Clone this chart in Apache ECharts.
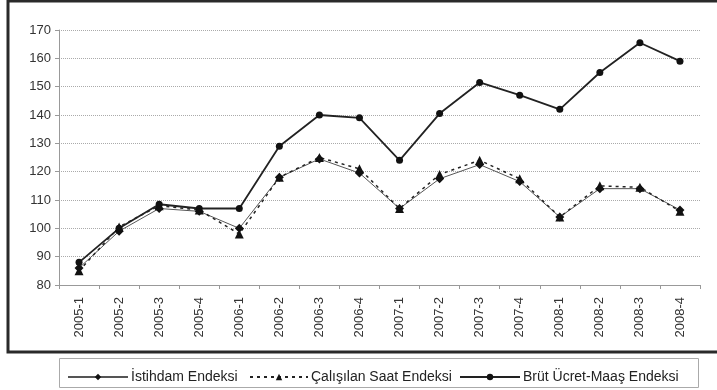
<!DOCTYPE html>
<html>
<head>
<meta charset="utf-8">
<script src="https://cdn.jsdelivr.net/npm/echarts@6/dist/echarts.min.js"></script>
<style>
  html, body { margin: 0; padding: 0; background: #fff; }
  #chart { width: 717px; height: 390px; }
</style>
</head>
<body>
<div id="chart"></div>
<script>
// çeyrekler
var categories = ['2005-1', '2005-2', '2005-3', '2005-4', '2006-1', '2006-2', '2006-3', '2006-4',
  '2007-1', '2007-2', '2007-3', '2007-4', '2008-1', '2008-2', '2008-3', '2008-4']
var istihdam = [86, 99, 107, 106, 100, 118, 124.5, 119.5, 107, 117.5, 122.5, 116.5, 104, 114, 114, 106.5]
var calisilanSaat = [85, 100.5, 108, 106.5, 98, 118, 125, 121, 107, 119, 124, 117.5, 104, 115, 114.5, 106]
var brutUcret = [88, 100, 108.5, 107, 107, 129, 140, 139, 124, 140.5, 151.5, 147, 142, 155, 165.5, 159]
var yTicks = [80, 90, 100, 110, 120, 130, 140, 150, 160, 170]

var names = ['İstihdam Endeksi', 'Çalışılan Saat Endeksi', 'Brüt Ücret-Maaş Endeksi']
var font = 'Liberation Sans, Arial, sans-serif'

var chartObj = echarts.init(document.getElementById('chart'))
var legendText = { fontFamily: font, fontSize: 14, color: '#222', padding: [0, 0, 0, -2] }
var option = {
  animation: false,
  grid: { left: 59, right: 17, top: 30, bottom: 105 },
  graphic: [
    { // dış çerçeve
      type: 'rect', shape: { x: 8, y: 1, width: 716, height: 351 },
      style: { fill: 'none', stroke: '#2a2a2a', lineWidth: 3 }, z: 100
    },
    { // lejant kutusu
      type: 'rect', shape: { x: 59.5, y: 358.5, width: 639, height: 29 },
      style: { fill: 'none', stroke: '#aaa', lineWidth: 1 }, z: 100
    }
  ],
  legend: [
    { data: [names[0]], left: 62, top: 365, itemWidth: 60, itemHeight: 8, itemGap: 0, textStyle: legendText },
    { data: [names[1]], left: 244, top: 365, itemWidth: 58, itemHeight: 8, itemGap: 0, textStyle: legendText },
    { data: [names[2]], left: 454, top: 365, itemWidth: 60, itemHeight: 8, itemGap: 0, textStyle: legendText }
  ],
  xAxis: {
    type: 'category',
    data: categories,
    boundaryGap: true,
    axisLine: { lineStyle: { color: '#999' } },
    axisTick: { show: true, length: 4, lineStyle: { color: '#999' } },
    axisLabel: { rotate: 90, margin: 12, fontFamily: font, fontSize: 13, color: '#333' }
  },
  yAxis: {
    type: 'value',
    min: yTicks[0],
    max: yTicks[yTicks.length - 1],
    interval: 10,
    axisLine: { show: true, lineStyle: { color: '#999' } },
    axisTick: { show: true, length: 4, lineStyle: { color: '#999' } },
    axisLabel: { margin: 8, fontFamily: font, fontSize: 13, color: '#333' },
    splitLine: { lineStyle: { color: '#aaa', type: 'dotted' } }
  },
  series: [
    {
      name: names[0], type: 'line', data: istihdam,
      symbol: 'diamond', symbolSize: 9,
      itemStyle: { color: '#111' },
      lineStyle: { color: '#555', width: 1 }
    },
    {
      name: names[1], type: 'line', data: calisilanSaat,
      symbol: 'triangle', symbolSize: 9,
      itemStyle: { color: '#111' },
      lineStyle: { color: '#222', width: 1.5, type: [3, 4] }
    },
    {
      name: names[2], type: 'line', data: brutUcret,
      symbol: 'circle', symbolSize: 7,
      itemStyle: { color: '#111' },
      lineStyle: { color: '#222', width: 1.8 }
    }
  ]
}
chartObj.setOption(option)
</script>
</body>
</html>
